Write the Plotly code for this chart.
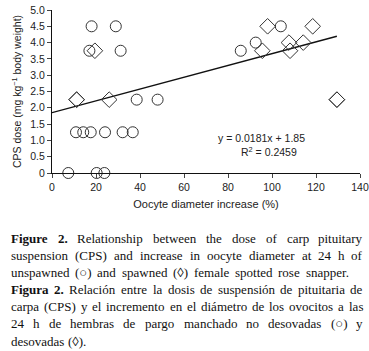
import plotly.graph_objects as go

# Data
unspawned_x = [7.4, 20.3, 23.8, 18.0, 29.0, 17.0, 31.2, 10.9, 14.2, 17.6, 24.1, 32.1, 36.7, 38.5, 48.0, 85.8, 92.6, 104.0]
unspawned_y = [0.0, 0.0, 0.0, 4.5, 4.5, 3.75, 3.75, 1.25, 1.25, 1.25, 1.25, 1.25, 1.25, 2.25, 2.25, 3.75, 4.0, 4.5]
spawned_x = [19.5, 11.2, 11.2, 26.0, 98.0, 95.6, 107.7, 108.2, 114.2, 118.5, 129.5, 129.5]
spawned_y = [3.75, 2.25, 2.25, 2.25, 4.5, 3.75, 4.0, 3.75, 4.0, 4.5, 2.25, 2.25]
slope = 0.0181
intercept = 1.85
fit_x = [0, 129.5]
x_ticks = [0, 20, 40, 60, 80, 100, 120, 140]
y_ticks = [0, 0.5, 1.0, 1.5, 2.0, 2.5, 3.0, 3.5, 4.0, 4.5, 5.0]
y_tick_labels = ["0", "0.5", "1.0", "1.5", "2.0", "2.5", "3.0", "3.5", "4.0", "4.5", "5.0"]
equation_text = "y = 0.0181x + 1.85"
r2_text = "R<sup>2</sup> = 0.2459"
x_title = "Oocyte diameter increase (%)"
y_title = "CPS dose (mg kg<sup>\u22121</sup> body weight)"

# caption lines: (text, bold-word count, justify target right edge px or None)
caption_lines = [
    ("Figure 2. Relationship between the dose of carp pituitary", 2, 363),
    ("suspension (CPS) and increase in oocyte diameter at 24 h of", 0, 363),
    ("unspawned (\u25cb) and spawned (\u25ca) female spotted rose snapper.", 0, 349),
    ("Figura 2. Relación entre la dosis de suspensión de pituitaria de", 2, 363),
    ("carpa (CPS) y el incremento en el diámetro de los ovocitos a las", 0, 363),
    ("24 h de hembras de pargo manchado no desovadas (\u25cb) y", 0, 363),
    ("desovadas (\u25ca).", 0, None),
]

fit_y = [intercept + slope * v for v in fit_x]

SANS = "Liberation Sans, Arial, sans-serif"
SERIF = "Liberation Serif, Times New Roman, serif"

# Times-Roman advance widths (per 1000 em)
TW = dict(zip("abcdefghijklmnopqrstuvwxyz",
              [444, 500, 444, 500, 444, 333, 500, 500, 278, 278, 500, 278, 778, 500, 500, 500, 500, 333, 389, 278, 500, 500, 722, 500, 500, 444]))
TW.update({"C": 667, "F": 611, "P": 556, "R": 667, "S": 556, "(": 333, ")": 333, ".": 250,
           ",": 250, "ó": 500, "é": 444, "á": 444, "\u25cb": 600, "\u25ca": 494})
for d in "0123456789":
    TW[d] = 500
TWB = dict(TW)
TWB.update({"F": 611, "i": 278, "g": 500, "u": 556, "r": 444, "e": 444, "a": 500})


def word_w(w, bold, size):
    tab = TWB if bold else TW
    return sum(tab.get(c, 500) for c in w) * size / 1000.0


fig = go.Figure()
fig.add_trace(go.Scatter(
    x=fit_x, y=fit_y, mode="lines",
    line=dict(color="#111111", width=1.4), showlegend=False, hoverinfo="skip"))
fig.add_trace(go.Scatter(
    x=unspawned_x, y=unspawned_y, mode="markers",
    marker=dict(symbol="circle-open", size=11, color="#333333", line=dict(width=1)),
    showlegend=False, cliponaxis=False))
fig.add_trace(go.Scatter(
    x=spawned_x, y=spawned_y, mode="markers",
    marker=dict(symbol="diamond-open", size=12, color="#333333", line=dict(width=1)),
    showlegend=False, cliponaxis=False))

fig.add_annotation(x=95, y=1.08, xref="x", yref="y", showarrow=False,
                   text=equation_text, font=dict(family=SANS, size=10.5, color="#222222"))
fig.add_annotation(x=98.6, y=0.65, xref="x", yref="y", showarrow=False,
                   text=r2_text, font=dict(family=SANS, size=10.5, color="#222222"))

# caption, laid out word by word (justified)
L, T, R, B = 52, 9.5, 9, 177.7
PW, PH = 369 - L - R, 351 - T - B
CAP_SIZE = 13
LEFT = 11
for i, (line, nbold, right) in enumerate(caption_lines):
    ypix = 239 + i * 17.2
    words = line.split(" ")
    widths = [word_w(w, k < nbold, CAP_SIZE) for k, w in enumerate(words)]
    if right is None or len(words) < 2:
        gap = 0.25 * CAP_SIZE
    else:
        gap = (right - LEFT - sum(widths)) / (len(words) - 1)
    xpos = LEFT
    for k, w in enumerate(words):
        last = (k == len(words) - 1) and right is not None
        px = right if last else xpos
        txt = "<b>%s</b>" % w if k < nbold else w
        fig.add_annotation(
            x=(px + (2 if last else -2) - L) / PW, y=(173.3 - ypix) / PH,
            xref="paper", yref="paper", xanchor="right" if last else "left",
            yanchor="middle", showarrow=False, text=txt,
            font=dict(family=SERIF, size=CAP_SIZE, color="#111111"))
        xpos += widths[k] + gap

fig.update_layout(
    width=369, height=351,
    margin=dict(l=L, r=R, t=T, b=B, autoexpand=False),
    paper_bgcolor="white", plot_bgcolor="white",
    font=dict(family=SANS, size=10, color="#222222"),
    xaxis=dict(range=[0, 140], tickvals=x_ticks, ticks="outside", ticklen=4,
               showline=True, linecolor="#111111", linewidth=1, showgrid=False,
               zeroline=False, tickfont=dict(size=10.5), automargin=False,
               ticklabeloverflow="allow",
               title=dict(text=x_title, font=dict(size=11), standoff=8)),
    yaxis=dict(range=[0, 5], tickvals=y_ticks, ticktext=y_tick_labels, ticks="outside",
               ticklen=4, showline=True, linecolor="#111111", linewidth=1, showgrid=False,
               zeroline=False, tickfont=dict(size=10.5), automargin=False,
               ticklabeloverflow="allow",
               title=dict(text=y_title, font=dict(size=10.5), standoff=6)),
)

fig.write_html("out.html", config={"displayModeBar": False},
               post_script="document.body.style.margin='0';document.body.style.overflow='hidden';")
